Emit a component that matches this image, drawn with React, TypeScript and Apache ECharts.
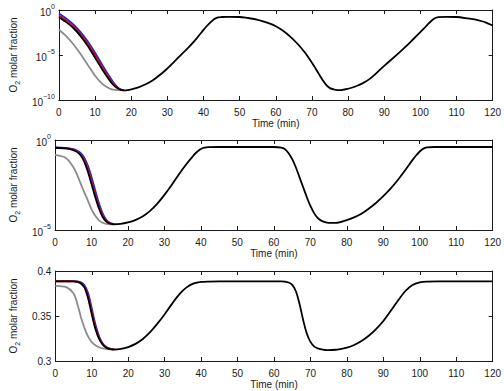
import React, { useEffect, useRef } from "react";
import * as echarts from "echarts";

// Top panel: log10 of the O2 molar fraction against time (min)
const time1 = [0, 2, 4, 6, 8, 10, 12, 14, 15, 16, 17, 18, 19, 20, 22, 24, 26, 28, 30, 32, 34, 36, 38, 40, 41, 42, 43, 44, 45, 47, 50, 54, 56, 58, 60, 62, 64, 66, 68, 70, 71, 72, 73, 74, 75, 76, 77, 78, 80, 82, 84, 86, 88, 90, 92, 94, 96, 98, 100, 101, 102, 103, 104, 105, 107, 110, 113, 115, 117, 118, 120];
const black1 = [-0.8, -1.35, -2.0, -2.9, -4.0, -5.3, -6.6, -7.8, -8.3, -8.65, -8.85, -8.92, -8.9, -8.82, -8.6, -8.25, -7.8, -7.2, -6.5, -5.7, -4.9, -4.1, -3.2, -2.2, -1.75, -1.35, -1.0, -0.82, -0.78, -0.76, -0.78, -1.0, -1.2, -1.45, -1.8, -2.3, -2.95, -3.75, -4.7, -5.85, -6.5, -7.15, -7.8, -8.35, -8.68, -8.83, -8.9, -8.9, -8.75, -8.5, -8.15, -7.65, -6.95, -6.2, -5.5, -4.8, -4.05, -3.25, -2.45, -2.05, -1.62, -1.22, -0.92, -0.8, -0.76, -0.78, -0.92, -1.05, -1.25, -1.38, -1.72];
const leadTime1 = [0, 2, 4, 6, 8, 10, 12, 14, 15, 16, 17, 18];
const blue1 = [-0.4, -0.95, -1.6, -2.45, -3.5, -4.75, -6.1, -7.4, -8.0, -8.48, -8.8, -8.92];
const red1 = [-0.6, -1.15, -1.8, -2.7, -3.75, -5.0, -6.35, -7.6, -8.15, -8.58, -8.84, -8.92];
const gray1 = [-2.2, -2.9, -3.8, -4.9, -6.1, -7.3, -8.2, -8.72, -8.86, -8.91, -8.9, -8.92];

// Middle panel: log10 of the O2 molar fraction
const time2 = [0, 3, 5, 6, 7, 8, 9, 10, 11, 12, 13, 14, 15, 16, 18, 20, 22, 24, 26, 28, 30, 32, 34, 36, 38, 39, 40, 41, 42, 45, 50, 55, 60, 62, 63, 64, 65, 66, 67, 68, 69, 70, 71, 72, 73, 74, 75, 77, 80, 82, 84, 86, 88, 90, 92, 94, 96, 98, 99, 100, 101, 102, 104, 110, 115, 120];
const black2 = [-0.43, -0.47, -0.56, -0.66, -0.85, -1.2, -1.75, -2.45, -3.15, -3.78, -4.25, -4.52, -4.64, -4.68, -4.66, -4.58, -4.45, -4.25, -3.95, -3.55, -3.05, -2.5, -1.9, -1.35, -0.85, -0.65, -0.5, -0.43, -0.4, -0.39, -0.39, -0.39, -0.39, -0.42, -0.5, -0.72, -1.05, -1.5, -2.05, -2.6, -3.15, -3.65, -4.05, -4.33, -4.48, -4.56, -4.6, -4.6, -4.45, -4.3, -4.1, -3.82, -3.5, -3.12, -2.7, -2.22, -1.68, -1.12, -0.86, -0.64, -0.48, -0.41, -0.39, -0.39, -0.39, -0.39];
const leadTime2 = [0, 3, 5, 6, 7, 8, 9, 10, 11, 12, 13, 14, 15, 16];
const blue2 = [-0.41, -0.44, -0.51, -0.59, -0.72, -0.98, -1.42, -2.05, -2.78, -3.48, -4.05, -4.42, -4.6, -4.66];
const red2 = [-0.42, -0.46, -0.54, -0.63, -0.79, -1.1, -1.6, -2.28, -3.0, -3.65, -4.17, -4.48, -4.62, -4.67];
const gray2 = [-0.83, -1.0, -1.5, -1.9, -2.4, -2.9, -3.35, -3.84, -4.2, -4.45, -4.6, -4.66, -4.68, -4.68];

// Bottom panel: O2 molar fraction on a linear scale
const time3 = [0, 3, 5, 6, 7, 8, 9, 10, 11, 12, 13, 14, 15, 16, 18, 20, 22, 24, 26, 28, 30, 32, 34, 36, 38, 40, 42, 45, 60, 62, 63, 64, 65, 66, 67, 68, 69, 70, 71, 72, 73, 74, 75, 77, 78, 80, 82, 84, 86, 88, 90, 92, 94, 96, 98, 100, 102, 105, 120];
const black3 = [0.3885, 0.3885, 0.3884, 0.3879, 0.3862, 0.3815, 0.3695, 0.3515, 0.3355, 0.3245, 0.318, 0.3147, 0.3132, 0.3128, 0.3135, 0.3155, 0.319, 0.3245, 0.332, 0.3415, 0.352, 0.3635, 0.374, 0.3818, 0.3862, 0.3879, 0.3883, 0.3884, 0.3884, 0.3884, 0.3882, 0.3872, 0.3845, 0.3775, 0.3635, 0.3455, 0.3305, 0.3212, 0.3163, 0.314, 0.3128, 0.3122, 0.312, 0.3125, 0.3132, 0.3148, 0.3178, 0.3222, 0.328, 0.3355, 0.3445, 0.3555, 0.367, 0.3775, 0.3845, 0.3874, 0.3882, 0.3884, 0.3884];
const leadTime3 = [0, 3, 5, 6, 7, 8, 9, 10, 11, 12, 13, 14, 15, 16];
const blue3 = [0.3888, 0.3888, 0.3887, 0.3884, 0.3874, 0.3842, 0.3752, 0.3585, 0.3405, 0.3275, 0.3195, 0.3155, 0.3137, 0.313];
const red3 = [0.3886, 0.3886, 0.3885, 0.3881, 0.3867, 0.3826, 0.372, 0.3545, 0.3375, 0.326, 0.3187, 0.3151, 0.3134, 0.3129];
const gray3 = [0.3835, 0.382, 0.375, 0.364, 0.349, 0.3365, 0.327, 0.321, 0.3175, 0.3153, 0.3139, 0.3132, 0.313, 0.3128];

const FONT = '"Liberation Sans", Arial, Helvetica, sans-serif';
const INK = "#1a1a1a";
const COLORS = { gray: "#8c8c8c", blue: "#2323e6", red: "#cc1010", black: "#000000" };

const pair = (t: number[], v: number[]) => t.map((x, i) => [x, v[i]]);

const expLabel = (v: number) => {
  const e = Math.round(v);
  const sup = e === 0 ? "0" : "\u2212" + Math.abs(e);
  return `{b|10}{s|${sup}}`;
};
const linLabel = (v: number) => String(Number(v.toFixed(2)));

const panels = [
  { top: 10, min: -10, max: 0, step: 5, log: true, time: time1, black: black1, lead: leadTime1, blue: blue1, red: red1, gray: gray1 },
  { top: 140, min: -5, max: 0, step: 5, log: true, time: time2, black: black2, lead: leadTime2, blue: blue2, red: red2, gray: gray2 },
  { top: 271, min: 0.3, max: 0.4, step: 0.05, log: false, time: time3, black: black3, lead: leadTime3, blue: blue3, red: red3, gray: gray3 },
];

export default function App() {
  const ref = useRef<HTMLDivElement>(null);

  useEffect(() => {
    if (!ref.current) return;
    const chart = echarts.init(ref.current, undefined, { renderer: "svg" });

    const axisLine = { show: true, onZero: false, lineStyle: { color: INK, width: 1 } };
    const tick = { show: true, inside: true, length: 4, lineStyle: { color: INK, width: 1 } };

    const grid: any[] = [];
    const xAxis: any[] = [];
    const yAxis: any[] = [];
    const series: any[] = [];

    panels.forEach((p, i) => {
      grid.push({ left: 44, top: p.top, width: 449, height: 90 });
      xAxis.push({
        type: "value", gridIndex: i, position: "bottom", min: 0, max: 120, interval: 10,
        axisLine, axisTick: tick, splitLine: { show: false },
        axisLabel: { margin: 7, fontSize: 10, fontFamily: FONT, color: INK },
        name: "Time (min)", nameLocation: "middle", nameGap: 18,
        nameTextStyle: { fontSize: 10, fontFamily: FONT, color: INK },
      });
      xAxis.push({
        type: "value", gridIndex: i, position: "top", min: 0, max: 120, interval: 10,
        axisLine, axisTick: tick, splitLine: { show: false }, axisLabel: { show: false },
      });
      yAxis.push({
        type: "value", gridIndex: i, position: "left", min: p.min, max: p.max, interval: p.step,
        axisLine, axisTick: tick, splitLine: { show: false },
        axisLabel: {
          margin: 4, fontSize: 10, fontFamily: FONT, color: INK,
          formatter: p.log ? expLabel : linLabel,
          rich: {
            b: { fontSize: 10, fontFamily: FONT, color: INK, padding: [4, 0, 0, 0] },
            s: { fontSize: 7, fontFamily: FONT, color: INK, verticalAlign: "top" },
          },
        },
        name: "{o|O}{u|2}{o| molar fraction}", nameLocation: "middle", nameGap: 34,
        nameTextStyle: {
          rich: {
            o: { fontSize: 10, fontFamily: FONT, color: INK, padding: [0, 0, 3, 0] },
            u: { fontSize: 7, fontFamily: FONT, color: INK, verticalAlign: "bottom" },
          },
        },
      });
      yAxis.push({
        type: "value", gridIndex: i, position: "right", min: p.min, max: p.max, interval: p.step,
        axisLine, axisTick: tick, splitLine: { show: false }, axisLabel: { show: false },
      });

      const line = (name: string, color: string, t: number[], v: number[]) => ({
        type: "line", name, xAxisIndex: 2 * i, yAxisIndex: 2 * i,
        data: pair(t, v), showSymbol: false, smooth: 0.3,
        lineStyle: { color, width: 1.8 }, itemStyle: { color }, clip: true, silent: true,
      });
      series.push(line("gray", COLORS.gray, p.lead, p.gray));
      series.push(line("blue", COLORS.blue, p.lead, p.blue));
      series.push(line("red", COLORS.red, p.lead, p.red));
      series.push(line("black", COLORS.black, p.time, p.black));
    });

    chart.setOption({ animation: false, grid, xAxis, yAxis, series });
    return () => chart.dispose();
  }, []);

  return (
    <div
      ref={ref}
      style={{ position: "absolute", left: 0, top: 0, width: 504, height: 391, background: "#fff" }}
    />
  );
}
